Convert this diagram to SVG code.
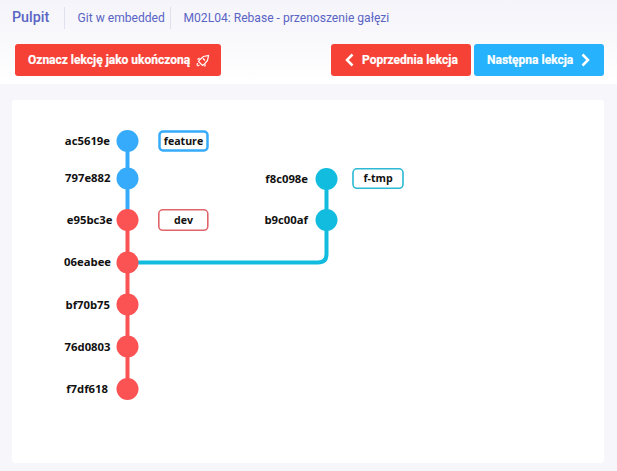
<svg xmlns="http://www.w3.org/2000/svg" width="617" height="471" viewBox="0 0 617 471">
<defs>
<linearGradient id="top" x1="0" y1="0" x2="0" y2="1"><stop offset="0" stop-color="#f4f4fa"/><stop offset="1" stop-color="#ffffff"/></linearGradient>
</defs>
<style>
.nav{font-family:Roboto,"Liberation Sans",sans-serif;fill:#5a64c4;font-size:12.1px}
.btn{font-family:Roboto,"Liberation Sans",sans-serif;fill:#fff;font-size:12px;font-weight:700;stroke:#fff;stroke-width:0.2px}
.chev{fill:none;stroke:#fff;stroke-width:2.5}
.hash{font-family:"Open Sans","Noto Sans",sans-serif;font-weight:700;font-size:11.3px;fill:#111;text-anchor:end}
.tag{font-family:"Open Sans","Noto Sans",sans-serif;font-weight:700;font-size:10.6px;fill:#111;text-anchor:middle}
.blue{fill:#36abfb}.red{fill:#fb5254}.teal{fill:#12bcdf}
.box{fill:#fff}
.sep{stroke:#dfe1ee;stroke-width:1}
.conn{fill:none;stroke-width:4}
</style>
<rect width="617" height="471" fill="#f6f6fb"/>
<rect width="617" height="84" fill="url(#top)"/>
<g id="nav">
<text class="nav" x="12" y="22" style="font-size:14.300px" font-weight="500">Pulpit</text>
<line class="sep" x1="64.500" y1="7" x2="64.500" y2="29"/>
<text class="nav" x="77.500" y="22">Git w embedded</text>
<line class="sep" x1="170.500" y1="7" x2="170.500" y2="29"/>
<text class="nav" x="183.500" y="22">M02L04: Rebase - przenoszenie gałęzi</text>
</g>
<g id="btn-done">
<rect x="15" y="44" width="206" height="32" rx="3" fill="#f64136"/>
<text class="btn" x="28" y="64">Oznacz lekcję jako ukończoną</text>
<g fill="none" stroke="#fff" stroke-width="1.200"><path d="M200 59.500l3.500-3 5-1-1 5-3 3.500-2 1.500-4-4z"/><path d="M199.500 58l-2 1.500M205.500 64.500l-1 2M197.500 63l-0.500 2.500M199.500 65l-2 1M203 58.500l2 2"/></g>
</g>
<g id="btn-prev">
<rect x="331" y="44" width="140" height="32" rx="3" fill="#f64136"/>
<path class="chev" d="M352.500 54.500l-5.500 5.500 5.500 5.500"/>
<text class="btn" x="362" y="64">Poprzednia lekcja</text>
</g>
<g id="btn-next">
<rect x="474" y="44" width="130" height="32" rx="3" fill="#26b2fc"/>
<path class="chev" d="M582.500 54.500l5.500 5.500-5.500 5.500"/>
<text class="btn" x="487" y="64">Następna lekcja</text>
</g>
<rect id="panel" x="12" y="100" width="592" height="363" rx="3" fill="#fff"/>
<g id="connectors">
<path class="conn" stroke="#36abfb" d="M127.500 141V220"/>
<path class="conn" stroke="#fb5254" d="M127.500 220V389"/>
<path class="conn" stroke="#12bcdf" d="M127.500 262.500H318q8.500 0 8.500-8.500V178.500"/>
</g>
<g id="c-ac5619e"><circle class="blue" cx="127.500" cy="141" r="11"/><text class="hash" x="110" y="145">ac5619e</text></g>
<g id="c-797e882"><circle class="blue" cx="127.500" cy="178.500" r="11"/><text class="hash" x="110.500" y="182">797e882</text></g>
<g id="c-e95bc3e"><circle class="red" cx="127.500" cy="220" r="11"/><text class="hash" x="112.500" y="224">e95bc3e</text></g>
<g id="c-06eabee"><circle class="red" cx="127.500" cy="262.500" r="11"/><text class="hash" x="111" y="266">06eabee</text></g>
<g id="c-bf70b75"><circle class="red" cx="127.500" cy="304.500" r="11"/><text class="hash" x="110" y="308.500">bf70b75</text></g>
<g id="c-76d0803"><circle class="red" cx="127.500" cy="346.500" r="11"/><text class="hash" x="110.500" y="350.500">76d0803</text></g>
<g id="c-f7df618"><circle class="red" cx="127.500" cy="389" r="11"/><text class="hash" x="108" y="393">f7df618</text></g>
<g id="c-f8c098e"><circle class="teal" cx="326.500" cy="179" r="11"/><text class="hash" x="308" y="183">f8c098e</text></g>
<g id="c-b9c00af"><circle class="teal" cx="326.500" cy="220" r="11"/><text class="hash" x="308" y="224">b9c00af</text></g>
<g id="tag-feature"><rect class="box" x="159.500" y="131.500" width="48" height="19" rx="3.500" stroke="#36abfb" stroke-width="2.500"/><text class="tag" x="183.500" y="145">feature</text></g>
<g id="tag-dev"><rect class="box" x="158.800" y="209.800" width="49" height="20.500" rx="4" stroke="#e0666b" stroke-width="1.600"/><text class="tag" x="183.500" y="224">dev</text></g>
<g id="tag-f-tmp"><rect class="box" x="353" y="168.800" width="50" height="19.500" rx="4" stroke="#2bb9d4" stroke-width="1.600"/><text class="tag" x="378" y="182">f-tmp</text></g>
</svg>
